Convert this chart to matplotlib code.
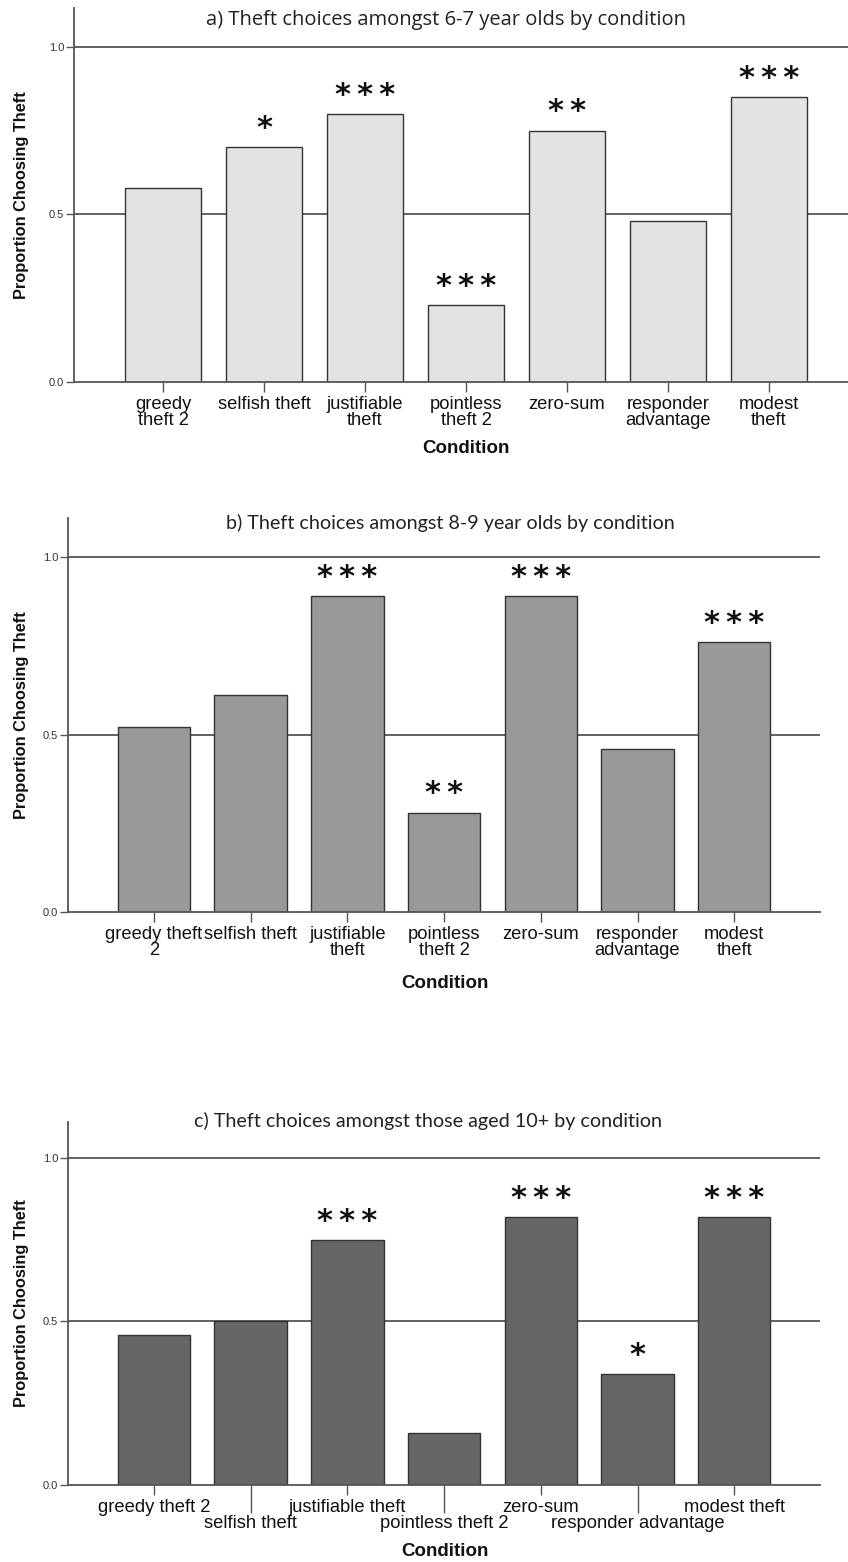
import matplotlib
matplotlib.use("Agg")
import matplotlib.pyplot as plt

conditions = ["greedy theft 2", "selfish theft", "justifiable theft", "pointless theft 2",
              "zero-sum", "responder advantage", "modest theft"]
labels_a = ["greedy\ntheft 2", "selfish theft", "justifiable\ntheft", "pointless\ntheft 2",
            "zero-sum", "responder\nadvantage", "modest\ntheft"]
labels_b = ["greedy theft\n2", "selfish theft", "justifiable\ntheft", "pointless\ntheft 2",
            "zero-sum", "responder\nadvantage", "modest\ntheft"]
labels_c = ["greedy theft 2", "selfish theft", "justifiable theft", "pointless theft 2",
            "zero-sum", "responder advantage", "modest theft"]

vals_a = [0.58, 0.70, 0.80, 0.23, 0.75, 0.48, 0.85]
vals_b = [0.52, 0.61, 0.89, 0.28, 0.89, 0.46, 0.76]
vals_c = [0.46, 0.50, 0.75, 0.16, 0.82, 0.34, 0.82]

sig_a = ["", "*", "***", "***", "**", "", "***"]
sig_b = ["", "", "***", "**", "***", "", "***"]
sig_c = ["", "", "***", "", "***", "*", "***"]

titles = ["a) Theft choices amongst 6-7 year olds by condition",
          "b) Theft choices amongst 8-9 year olds by condition",
          "c) Theft choices amongst those aged 10+ by condition"]

yticks = [0.0, 0.5, 1.0]
ytick_labels = ["0.0", "0.5", "1.0"]

W, H = 848, 1562
fig = plt.figure(figsize=(W / 100, H / 100), dpi=100)

LINE = "#555555"
EDGE = "#333333"


def px_axes(left, right, top, bottom):
    return [left / W, 1 - bottom / H, (right - left) / W, (bottom - top) / H]


panels = [
    dict(rect=px_axes(74, 848, 8, 382), xlim=(-0.881, 6.782), ylim=(0, 1.116),
         vals=vals_a, sig=sig_a, labels=labels_a, color="#e3e3e3",
         title=titles[0], tpos=(446, 20), tsize=14.5, tfam="Open Sans",
         cond=(466, 449), stagger=False),
    dict(rect=px_axes(68, 820, 518, 912), xlim=(-0.889, 6.887), ylim=(0, 1.110),
         vals=vals_b, sig=sig_b, labels=labels_b, color="#999999",
         title=titles[1], tpos=(450, 523), tsize=14.2, tfam="Lato",
         cond=(445, 984), stagger=False),
    dict(rect=px_axes(68, 820, 1122, 1485), xlim=(-0.889, 6.887), ylim=(0, 1.110),
         vals=vals_c, sig=sig_c, labels=labels_c, color="#666666",
         title=titles[2], tpos=(428, 1121), tsize=14.2, tfam="Lato",
         cond=(445, 1552), stagger=True),
]

for p in panels:
    ax = fig.add_axes(p["rect"])
    x = list(range(len(conditions)))
    for yv in [0.5, 1.0]:
        ax.axhline(yv, color=LINE, lw=1.3, zorder=0)
    ax.bar(x, p["vals"], width=0.75, color=p["color"], edgecolor=EDGE,
           linewidth=1.0, zorder=2)
    for xi, v, s in zip(x, p["vals"], p["sig"]):
        if s:
            ax.annotate("\u2009".join(s), xy=(xi, v), xytext=(0, 3),
                        textcoords="offset points", ha="center", va="bottom",
                        fontsize=22, fontweight="bold", family="DejaVu Sans",
                        color="#111111")
    ax.set_xlim(*p["xlim"])
    ax.set_ylim(*p["ylim"])
    for side in ["top", "right"]:
        ax.spines[side].set_visible(False)
    for side in ["left", "bottom"]:
        ax.spines[side].set_color(LINE)
        ax.spines[side].set_linewidth(1.3)
    ax.set_yticks(yticks)
    ax.set_yticklabels(ytick_labels, fontsize=8, family="Liberation Sans", color="#333333")
    ax.tick_params(axis="y", length=6, width=1, color=LINE, pad=1)
    ax.set_xticks(x)
    ax.set_xticklabels(p["labels"], fontsize=13.2, family="Liberation Sans",
                       color="#111111", linespacing=0.9)
    ax.tick_params(axis="x", length=7, width=1, color=LINE, pad=3)
    if p["stagger"]:
        for i, t in enumerate(ax.xaxis.get_major_ticks()):
            if i % 2 == 1:
                t._apply_params(size=20, pad=1.5)
    axw = p["rect"][2] * W
    ax.set_ylabel("Proportion Choosing Theft", fontsize=11.8, fontweight="bold",
                  family="Liberation Sans", color="#111111")
    ax.yaxis.set_label_coords((29 - p["rect"][0] * W) / axw, 0.5)
    fig.text(p["tpos"][0] / W, 1 - p["tpos"][1] / H, p["title"], ha="center", va="center",
             fontsize=p["tsize"], family=p["tfam"], color="#222222")
    fig.text(p["cond"][0] / W, 1 - p["cond"][1] / H, "Condition", ha="center", va="center",
             fontsize=13.5, fontweight="bold", family="Liberation Sans", color="#111111")

fig.savefig("out.png", dpi=100)
